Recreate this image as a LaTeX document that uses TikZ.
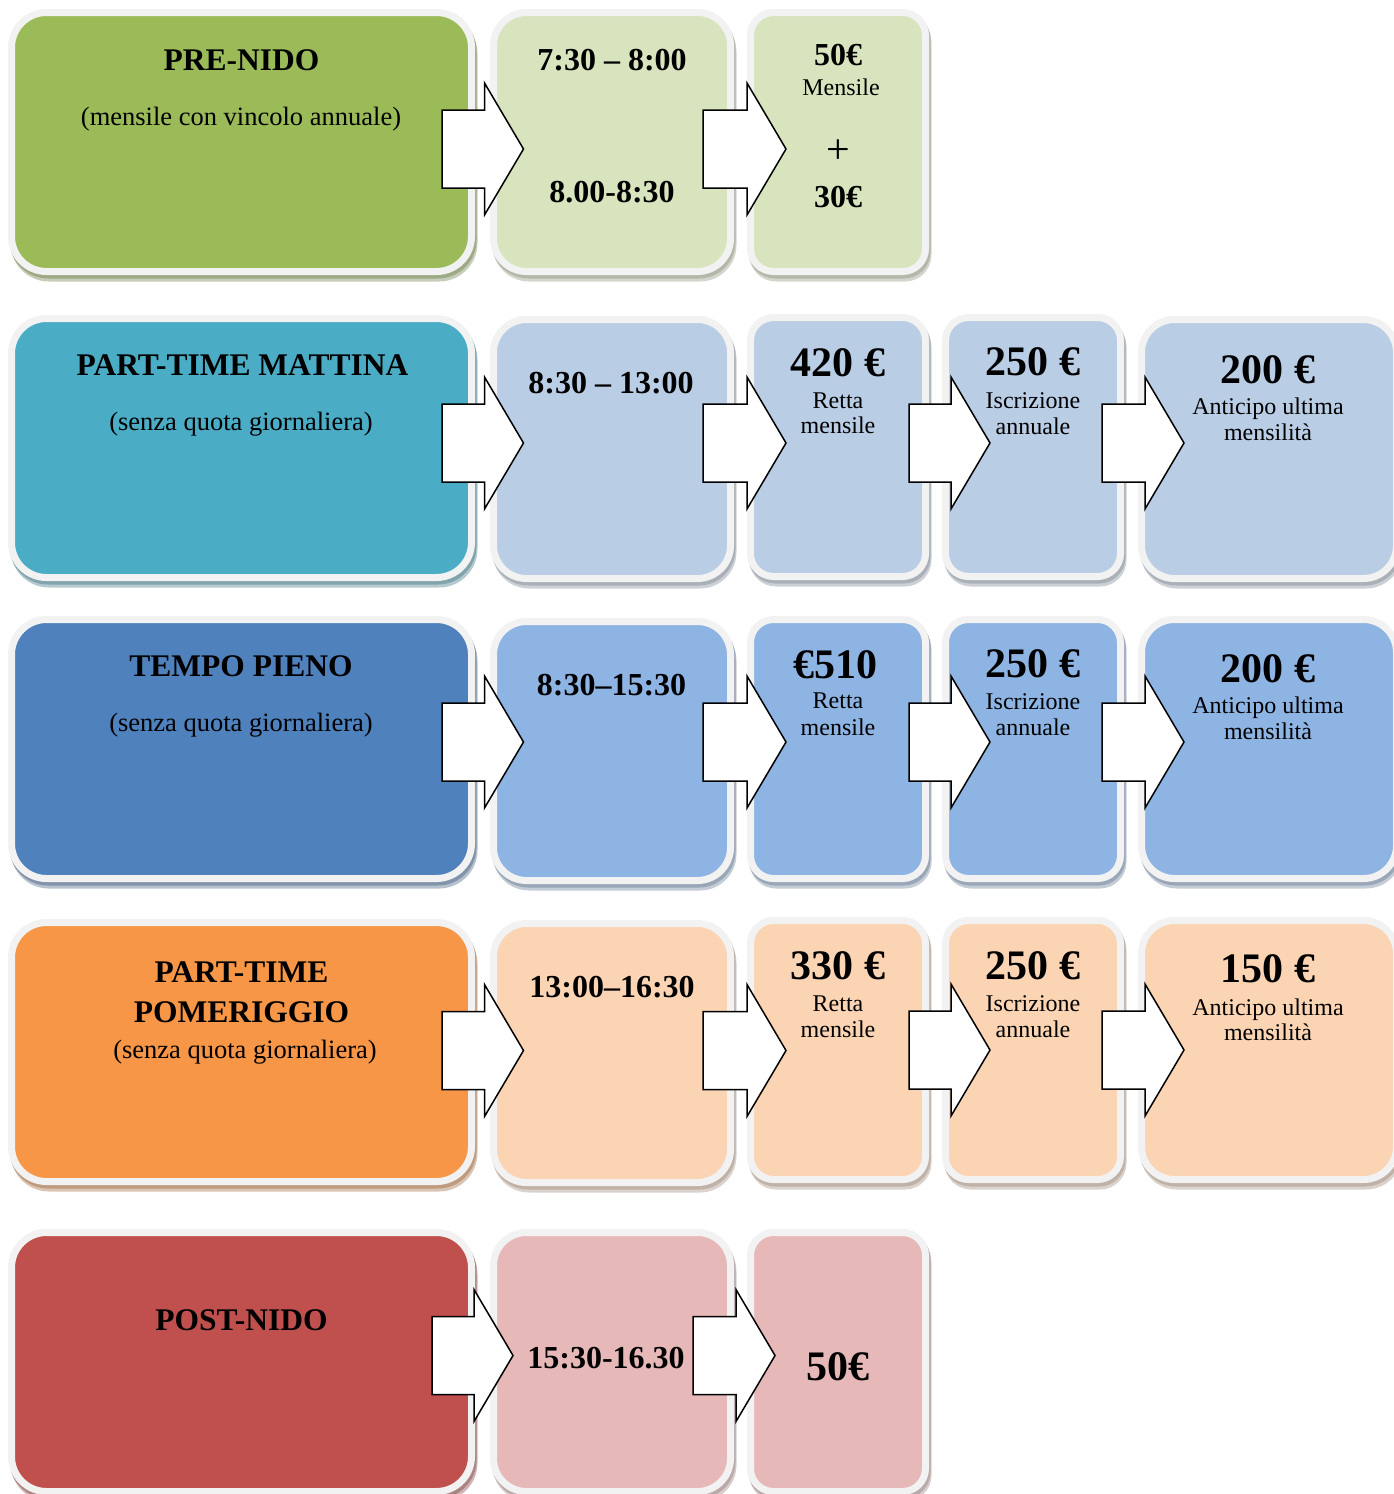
\documentclass[tikz,border=0pt]{standalone}
\usepackage{fontspec}
\setmainfont{Liberation Serif}
\usetikzlibrary{calc}

\definecolor{rim}{HTML}{F2F2F2}
\definecolor{preD}{HTML}{9BBB59}
\definecolor{preL}{HTML}{D7E4BD}
\definecolor{morD}{HTML}{4BACC6}
\definecolor{morL}{HTML}{B9CDE5}
\definecolor{fullD}{HTML}{4F81BD}
\definecolor{fullL}{HTML}{8EB4E3}
\definecolor{aftD}{HTML}{F79646}
\definecolor{aftL}{HTML}{FBD4B4}
\definecolor{postD}{HTML}{C0504D}
\definecolor{postL}{HTML}{E6B9B8}

\begin{document}
\begin{tikzpicture}[x=1pt, y=-1pt,
	box/.style={draw=rim, fill=#1, line width=7pt, inner sep=0pt, outer sep=0pt, minimum height=259pt,
		preaction={draw=#1!60!black!35!white, fill=#1!60!black!35!white, transform canvas={xshift=2.5pt, yshift=-6.5pt}},
		preaction={draw=#1!60!black!60!white, fill=#1!60!black!60!white, transform canvas={xshift=1.5pt, yshift=-3.5pt}}},
	mainbox/.style={box=#1, minimum width=460pt, rounded corners=35pt},
	timebox/.style={box=#1, minimum width=237pt, rounded corners=33pt},
	feebox/.style={box=#1, minimum width=175pt, rounded corners=23pt},
	advbox/.style={box=#1, minimum width=255pt, rounded corners=33pt},
	txt/.style={anchor=base, inner sep=0pt},
	ttl/.style={txt, font=\fontsize{31.5}{36}\selectfont\bfseries},
	sub/.style={txt, font=\fontsize{26.5}{30}\selectfont},
	hrs/.style={txt, font=\fontsize{32}{36}\selectfont\bfseries},
	amt/.style={txt, font=\fontsize{42}{48}\selectfont\bfseries},
	amtS/.style={txt, font=\fontsize{32}{36}\selectfont\bfseries},
	lbl/.style={txt, font=\fontsize{24}{26}\selectfont},
	plus/.style={inner sep=0pt, font=\fontsize{42}{46}\selectfont},
	flow/.style={draw=black, fill=white, line width=1.5pt, line join=miter,
		to path={let \p1=(\tikztostart), \p2=(\tikztotarget) in
			(\x1,\y1+39pt) -- (\x2-39pt,\y1+39pt) -- (\x2-39pt,\y1+66pt) -- (\x2,\y1)
			-- (\x2-39pt,\y1-66pt) -- (\x2-39pt,\y1-39pt) -- (\x1,\y1-39pt) -- cycle}}]
	\clip (0,0) rectangle (1394,1494);

	% pre-nido
	\node[mainbox=preD] (A1) at (241.5,142) {};
	\node[timebox=preL] (A2) at (612,142) {};
	\node[feebox=preL] (A3) at (838,142) {};
	\node[ttl] (A1t) at (241.5,70) {PRE-NIDO};
	\node[sub] (A1s) at (241,125) {(mensile con vincolo annuale)};
	\node[hrs] (A2a) at (612,70) {7:30 – 8:00};
	\node[hrs] (A2b) at (612,202) {8.00-8:30};
	\node[amtS] (A3a) at (838,65) {50€};
	\node[lbl] (A3b) at (841,95) {Mensile};
	\node[plus] (A3c) at (838,152) {+};
	\node[amtS] (A3d) at (838,207) {30€};

	% part-time mattina
	\node[mainbox=morD] (B1) at (241.5,448) {};
	\node[timebox=morL] (B2) at (612,449) {};
	\node[feebox=morL] (B3) at (838,447) {};
	\node[feebox=morL] (B4) at (1033,447) {};
	\node[advbox=morL] (B5) at (1269,449) {};
	\node[ttl] (B1t) at (242.5,375) {PART-TIME MATTINA};
	\node[sub] (B1s) at (241,430) {(senza quota giornaliera)};
	\node[hrs] (B2a) at (611,393) {8:30 – 13:00};
	\node[amt] (B3a) at (838,376) {420 €};
	\node[lbl] (B3b) at (838,408) {Retta};
	\node[lbl] (B3c) at (838,433) {mensile};
	\node[amt] (B4a) at (1033,375) {250 €};
	\node[lbl] (B4b) at (1033,408) {Iscrizione};
	\node[lbl] (B4c) at (1033,434) {annuale};
	\node[amt] (B5a) at (1268,383) {200 €};
	\node[lbl] (B5b) at (1268,414) {Anticipo ultima};
	\node[lbl] (B5c) at (1268,440) {mensilità};

	% tempo pieno
	\node[mainbox=fullD] (C1) at (241.5,749) {};
	\node[timebox=fullL] (C2) at (612,751) {};
	\node[feebox=fullL] (C3) at (838,749) {};
	\node[feebox=fullL] (C4) at (1033,749) {};
	\node[advbox=fullL] (C5) at (1269,749) {};
	\node[ttl] (C1t) at (241,676) {TEMPO PIENO};
	\node[sub] (C1s) at (241,731) {(senza quota giornaliera)};
	\node[hrs] (C2a) at (611.5,695) {8:30–15:30};
	\node[amt] (C3a) at (835,678) {€510};
	\node[lbl] (C3b) at (838,708) {Retta};
	\node[lbl] (C3c) at (838,735) {mensile};
	\node[amt] (C4a) at (1033,677) {250 €};
	\node[lbl] (C4b) at (1033,709) {Iscrizione};
	\node[lbl] (C4c) at (1033,735) {annuale};
	\node[amt] (C5a) at (1268,682) {200 €};
	\node[lbl] (C5b) at (1268,713) {Anticipo ultima};
	\node[lbl] (C5c) at (1268,739) {mensilità};

	% part-time pomeriggio
	\node[mainbox=aftD] (D1) at (241.5,1052) {};
	\node[timebox=aftL] (D2) at (612,1053) {};
	\node[feebox=aftL] (D3) at (838,1050) {};
	\node[feebox=aftL] (D4) at (1033,1050) {};
	\node[advbox=aftL] (D5) at (1269,1050) {};
	\node[ttl] (D1t) at (241.5,982) {PART-TIME};
	\node[ttl] (D1u) at (241.5,1022) {POMERIGGIO};
	\node[sub] (D1s) at (245,1058) {(senza quota giornaliera)};
	\node[hrs] (D2a) at (612,997) {13:00–16:30};
	\node[amt] (D3a) at (838,979) {330 €};
	\node[lbl] (D3b) at (838,1011) {Retta};
	\node[lbl] (D3c) at (838,1037) {mensile};
	\node[amt] (D4a) at (1033,979) {250 €};
	\node[lbl] (D4b) at (1033,1011) {Iscrizione};
	\node[lbl] (D4c) at (1033,1037) {annuale};
	\node[amt] (D5a) at (1268,982) {150 €};
	\node[lbl] (D5b) at (1268,1015) {Anticipo ultima};
	\node[lbl] (D5c) at (1268,1040) {mensilità};

	% post-nido
	\node[mainbox=postD] (E1) at (241.5,1362) {};
	\node[timebox=postL] (E2) at (612,1362) {};
	\node[feebox=postL] (E3) at (838,1362) {};
	\node[ttl] (E1t) at (241.5,1330) {POST-NIDO};
	\node[hrs] (E2a) at (606,1368) {15:30-16.30};
	\node[amt] (E3a) at (838,1380) {50€};

	\draw[flow] ([shift={(-29.5pt,-7pt)}]A1.east) to ([xshift=30pt]A2.west);
	\draw[flow] ([shift={(-27.5pt,-7pt)}]A2.east) to ([xshift=35.5pt]A3.west);
	\draw[flow] ([shift={(-29.5pt,5pt)}]B1.east) to ([xshift=30pt]B2.west);
	\draw[flow] ([shift={(-27.5pt,6pt)}]B2.east) to ([xshift=35.5pt]B3.west);
	\draw[flow] ([shift={(-16.5pt,4pt)}]B3.east) to ([xshift=44.5pt]B4.west);
	\draw[flow] ([shift={(-18.5pt,4pt)}]B4.east) to ([xshift=42.5pt]B5.west);
	\draw[flow] ([shift={(-29.5pt,7pt)}]C1.east) to ([xshift=30pt]C2.west);
	\draw[flow] ([shift={(-27.5pt,9pt)}]C2.east) to ([xshift=35.5pt]C3.west);
	\draw[flow] ([shift={(-16.5pt,7pt)}]C3.east) to ([xshift=44.5pt]C4.west);
	\draw[flow] ([shift={(-18.5pt,7pt)}]C4.east) to ([xshift=42.5pt]C5.west);
	\draw[flow] ([shift={(-29.5pt,1.5pt)}]D1.east) to ([xshift=30pt]D2.west);
	\draw[flow] ([shift={(-27.5pt,2.5pt)}]D2.east) to ([xshift=35.5pt]D3.west);
	\draw[flow] ([shift={(-16.5pt,0pt)}]D3.east) to ([xshift=44.5pt]D4.west);
	\draw[flow] ([shift={(-18.5pt,0pt)}]D4.east) to ([xshift=42.5pt]D5.west);
	\draw[flow] ([shift={(-39.5pt,6.5pt)}]E1.east) to ([xshift=19.5pt]E2.west);
	\draw[flow] ([shift={(-37.5pt,6.5pt)}]E2.east) to ([xshift=24.5pt]E3.west);
\end{tikzpicture}
\end{document}
